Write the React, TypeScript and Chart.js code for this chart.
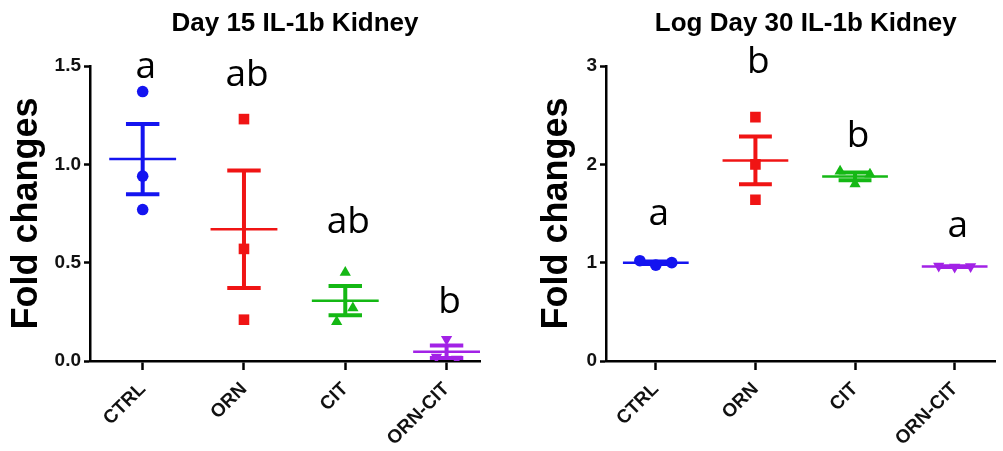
import React, { useEffect, useRef } from 'react';
import { Chart, registerables } from 'chart.js';

Chart.register(...registerables);

// ---------- data ----------
const categories = ['CTRL', 'ORN', 'CIT', 'ORN-CIT'];
const groupColors = ['#1414f0', '#f01414', '#14b814', '#a222e6'];
const groupPointStyles = ['circle', 'rect', 'triangle', 'triangle'];
const groupPointRotations = [0, 0, 0, 180];
const groupPointRadii = [5.8, 7.5, 6.5, 6.5];

const day15Title = 'Day 15 IL-1b Kidney';
const day15Values = [
  [1.37, 0.94, 0.77],
  [1.23, 0.57, 0.21],
  [0.45, 0.27, 0.2],
  [0.11, 0.02, 0.01],
];
const day15Spread = [
  [0, 0, 0],
  [0, 0, 0],
  [0, 0.075, -0.085],
  [0, -0.1, 0.1],
];
const day15Letters = ['a', 'ab', 'ab', 'b'];
const day15LetterY = [1.44, 1.4, 0.65, 0.245];
const day15YMax = 1.5;
const day15YStep = 0.5;

const day30Title = 'Log Day 30 IL-1b Kidney';
const day30Values = [
  [1.02, 0.975, 1.0],
  [2.48, 2.0, 1.64],
  [1.93, 1.8, 1.9],
  [0.965, 0.955, 0.96],
];
const day30Spread = [
  [-0.16, 0, 0.16],
  [0, 0, 0],
  [-0.15, 0, 0.15],
  [-0.16, 0, 0.16],
];
const day30Letters = ['a', 'b', 'b', 'a'];
const day30LetterY = [1.38, 2.93, 2.18, 1.26];
const day30YMax = 3;
const day30YStep = 1;

const yAxisTitle = 'Fold changes';

// ---------- helpers ----------
const mean = (a: number[]) => a.reduce((s, v) => s + v, 0) / a.length;
const sem = (a: number[]) => {
  const m = mean(a);
  const sd = Math.sqrt(a.reduce((s, v) => s + (v - m) * (v - m), 0) / (a.length - 1));
  return sd / Math.sqrt(a.length);
};

const MEAN_HALF = 0.33;
const CAP_HALF = 0.165;

function buildDatasets(values: number[][], spread: number[][]) {
  const ds: any[] = [];
  values.forEach((vals, i) => {
    const cx = i + 1;
    const c = groupColors[i];
    const m = mean(vals);
    const s = sem(vals);
    ds.push({
      label: categories[i],
      data: vals.map((v, k) => ({ x: cx + spread[i][k], y: v })),
      pointStyle: groupPointStyles[i],
      pointRotation: groupPointRotations[i],
      pointRadius: groupPointRadii[i],
      backgroundColor: c,
      borderColor: c,
      pointBorderWidth: 0,
      showLine: false,
      order: 0,
    });
    ds.push({
      label: categories[i] + ' mean',
      data: [
        { x: cx - MEAN_HALF, y: m },
        { x: cx + MEAN_HALF, y: m },
      ],
      showLine: true,
      borderColor: c,
      borderWidth: 2.5,
      pointRadius: 0,
      fill: false,
      tension: 0,
      order: 1,
    });
    ds.push({
      label: categories[i] + ' sem',
      data: [
        { x: cx - CAP_HALF, y: m + s },
        { x: cx + CAP_HALF, y: m + s },
        { x: cx, y: null },
        { x: cx - CAP_HALF, y: m - s },
        { x: cx + CAP_HALF, y: m - s },
        { x: cx, y: null },
        { x: cx, y: m - s },
        { x: cx, y: m + s },
      ],
      showLine: true,
      spanGaps: false,
      borderColor: c,
      borderWidth: 4,
      pointRadius: 0,
      fill: false,
      tension: 0,
      order: 1,
    });
  });
  return ds;
}

function annotationPlugin(title: string, titleDx: number, letters: string[], letterY: number[]) {
  return {
    id: 'annotations',
    afterDatasetsDraw(chart: any) {
      const { ctx, chartArea, scales } = chart;
      ctx.save();
      ctx.fillStyle = '#000';
      ctx.textAlign = 'center';
      ctx.textBaseline = 'alphabetic';
      ctx.font = 'bold 26px "Liberation Sans", Arial, sans-serif';
      ctx.fillText(title, (chartArea.left + chartArea.right) / 2 + titleDx, 31);
      ctx.font = '37px "Open Sans", sans-serif';
      letters.forEach((t, i) => {
        ctx.fillText(t, scales.x.getPixelForValue(i + 1) + 3, scales.y.getPixelForValue(letterY[i]));
      });
      ctx.restore();
    },
  };
}

const tickFont = { family: '"Liberation Sans", Arial, sans-serif', size: 19, weight: 'bold' as const };

function makeConfig(opts: {
  title: string;
  titleDx: number;
  values: number[][];
  spread: number[][];
  letters: string[];
  letterY: number[];
  yMax: number;
  yStep: number;
  decimals: number;
  xMin: number;
  xMax: number;
  yWidth: number;
  padRight: number;
}) {
  return {
    type: 'scatter',
    data: { datasets: buildDatasets(opts.values, opts.spread) },
    options: {
      animation: false,
      responsive: false,
      events: [],
      layout: { padding: { top: 66, right: opts.padRight, left: 0, bottom: 0 } },
      plugins: { legend: { display: false }, tooltip: { enabled: false }, title: { display: false } },
      scales: {
        x: {
          type: 'linear',
          min: opts.xMin,
          max: opts.xMax,
          afterBuildTicks: (axis: any) => {
            axis.ticks = categories.map((_, i) => ({ value: i + 1 }));
          },
          afterFit: (axis: any) => {
            axis.height = 90;
          },
          ticks: {
            autoSkip: false,
            minRotation: 45,
            maxRotation: 45,
            padding: 8,
            color: '#111',
            font: tickFont,
            callback: (v: number) => categories[Math.round(v) - 1] ?? '',
          },
          grid: {
            display: true,
            drawOnChartArea: false,
            drawTicks: true,
            tickLength: 9,
            tickWidth: 2.5,
            tickColor: '#000',
          },
          border: { display: true, color: '#000', width: 2.5 },
        },
        y: {
          type: 'linear',
          min: 0,
          max: opts.yMax,
          afterFit: (axis: any) => {
            axis.width = opts.yWidth;
          },
          ticks: {
            stepSize: opts.yStep,
            padding: 3,
            color: '#111',
            font: tickFont,
            callback: (v: number) => Number(v).toFixed(opts.decimals),
          },
          grid: {
            display: true,
            drawOnChartArea: false,
            drawTicks: true,
            tickLength: 6,
            tickWidth: 2.5,
            tickColor: '#000',
          },
          border: { display: true, color: '#000', width: 2.5 },
          title: {
            display: true,
            text: yAxisTitle,
            color: '#000',
            font: { family: '"Liberation Sans", Arial, sans-serif', size: 36, weight: 'bold' },
            padding: { top: 5, bottom: 0 },
          },
        },
      },
    },
    plugins: [annotationPlugin(opts.title, opts.titleDx, opts.letters, opts.letterY)],
  } as any;
}

function Panel({ config, left, width }: { config: any; left: number; width: number }) {
  const ref = useRef<HTMLCanvasElement | null>(null);
  useEffect(() => {
    if (!ref.current) return;
    const chart = new Chart(ref.current, config);
    return () => chart.destroy();
  }, [config]);
  return (
    <canvas
      ref={ref}
      width={width}
      height={451}
      style={{ position: 'absolute', left, top: 0, width, height: 451 }}
    />
  );
}

const leftConfig = makeConfig({
  title: day15Title,
  titleDx: 10,
  values: day15Values,
  spread: day15Spread,
  letters: day15Letters,
  letterY: day15LetterY,
  yMax: day15YMax,
  yStep: day15YStep,
  decimals: 1,
  xMin: 0.48,
  xMax: 4.33,
  yWidth: 90,
  padRight: 20,
});

const rightConfig = makeConfig({
  title: day30Title,
  titleDx: 5,
  values: day30Values,
  spread: day30Spread,
  letters: day30Letters,
  letterY: day30LetterY,
  yMax: day30YMax,
  yStep: day30YStep,
  decimals: 0,
  xMin: 0.5,
  xMax: 4.41,
  yWidth: 76,
  padRight: 0,
});

export default function App() {
  return (
    <div
      style={{
        position: 'fixed',
        left: 0,
        top: 0,
        width: 1003,
        height: 451,
        background: '#fff',
        overflow: 'hidden',
      }}
    >
      <Panel config={leftConfig} left={0} width={500} />
      <Panel config={rightConfig} left={530} width={473} />
    </div>
  );
}
